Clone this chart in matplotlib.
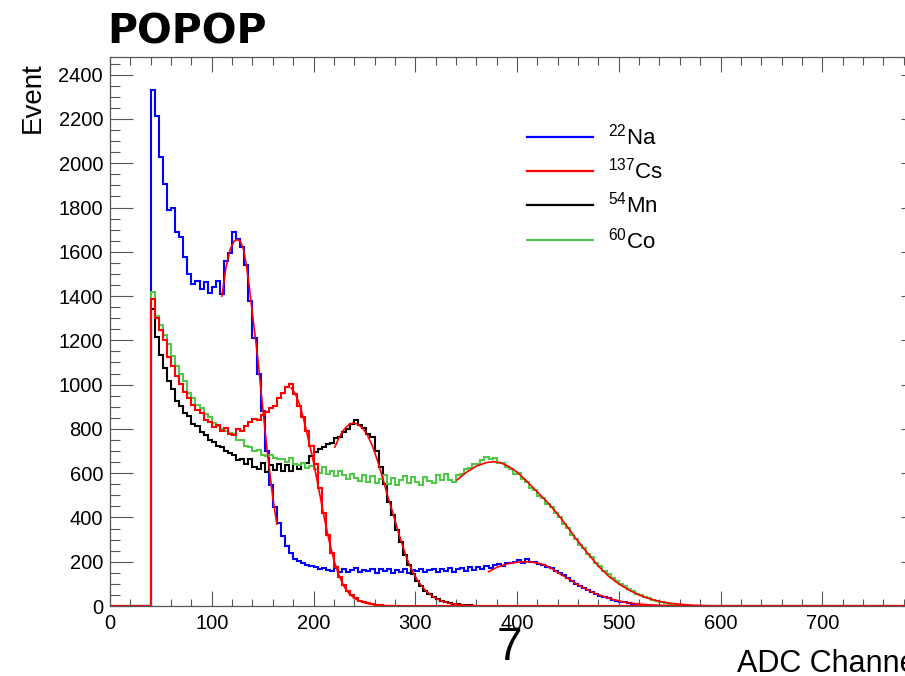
import numpy as np
import matplotlib
matplotlib.use("Agg")
import matplotlib.pyplot as plt
from matplotlib.lines import Line2D

plt.rcParams["font.family"] = ["Liberation Sans", "DejaVu Sans"]
plt.rcParams["mathtext.fontset"] = "custom"
plt.rcParams["mathtext.rm"] = "Liberation Sans"
plt.rcParams["mathtext.it"] = "Liberation Sans"

# ── Data: histogram counts, 4-channel bins starting at channel 40 ───────────
BIN_START = 40
BIN_WIDTH = 4
X_MAX = 800

na22 = [2330, 2215, 2030, 1905, 1790, 1800, 1690, 1665, 1575, 1500,
        1455, 1470, 1430, 1465, 1415, 1440, 1470, 1410, 1560, 1595,
        1690, 1660, 1620, 1540, 1380, 1210, 1050, 880, 700, 545,
        445, 375, 318, 272, 238, 214, 203, 194, 183, 180,
        174, 168, 172, 163, 160, 170, 155, 166, 152, 164,
        170, 153, 163, 156, 167, 151, 165, 157, 168, 150,
        162, 154, 166, 151, 163, 156, 168, 152, 161, 165,
        154, 166, 157, 170, 155, 167, 171, 160, 174, 163,
        176, 166, 180, 170, 185, 189, 180, 196, 193, 198,
        206, 196, 211, 200, 199, 190, 186, 176, 172, 159,
        150, 140, 126, 114, 101, 91, 80, 71, 62, 55,
        47, 40, 34, 29, 24, 20, 16, 13, 10, 8,
        6, 5, 3, 2, 2, 1, 1, 1]

cs137 = [1385, 1300, 1245, 1200, 1125, 1085, 1040, 1005, 965, 940,
         910, 885, 870, 838, 832, 808, 818, 792, 803, 778,
         772, 798, 790, 815, 832, 845, 838, 862, 878, 893,
         905, 938, 962, 988, 1005, 958, 905, 852, 790, 722,
         642, 532, 420, 322, 240, 178, 130, 94, 68, 48,
         34, 24, 17, 12, 8, 5, 3, 2, 1, 1]

mn54 = [1340, 1215, 1135, 1075, 1015, 978, 928, 905, 872, 858,
        822, 812, 788, 772, 750, 742, 722, 718, 698, 692,
        680, 660, 662, 640, 665, 630, 618, 645, 605, 638,
        615, 642, 612, 636, 610, 640, 618, 648, 648, 678,
        695, 708, 718, 732, 738, 758, 762, 788, 798, 822,
        838, 818, 802, 778, 762, 702, 628, 552, 472, 410,
        342, 288, 232, 186, 146, 115, 90, 70, 55, 42,
        32, 24, 18, 13, 10, 7, 5, 4, 3, 2,
        2, 1, 1, 2, 1, 1, 0, 1, 0, 1]

co60 = [1420, 1310, 1268, 1225, 1185, 1128, 1085, 1048, 1015, 962,
        940, 908, 895, 868, 855, 826, 812, 798, 792, 780,
        778, 748, 748, 722, 718, 702, 705, 682, 676, 684,
        668, 664, 662, 650, 668, 642, 638, 645, 622, 632,
        618, 600, 626, 598, 612, 585, 610, 590, 572, 598,
        580, 565, 590, 560, 585, 556, 575, 590, 552, 578,
        548, 570, 585, 555, 582, 560, 548, 584, 565, 555,
        590, 568, 598, 570, 560, 592, 598, 618, 622, 642,
        640, 658, 672, 662, 668, 648, 645, 628, 618, 598,
        600, 575, 558, 532, 522, 498, 486, 460, 445, 418,
        402, 372, 352, 322, 302, 275, 260, 236, 220, 194,
        180, 158, 144, 126, 115, 99, 89, 76, 67, 55,
        48, 39, 34, 26, 22, 17, 13, 10, 8, 6,
        5, 3, 2, 2, 1, 1]

# ── Fit curves (channel, counts) ──────────────────────────────────────────────
fit_na_low_x = [110, 114, 118, 122, 125, 128, 131, 134, 137, 140, 145, 150, 155, 160, 164]
fit_na_low_y = [1400, 1530, 1610, 1648, 1655, 1648, 1615, 1540, 1440, 1320, 1130, 900, 680, 490, 370]

fit_na_high_x = [372, 380, 390, 400, 408, 415, 422, 430, 440, 450, 460, 470, 480, 490, 500,
                 510, 520, 530, 540, 550, 560]
fit_na_high_y = [155, 174, 190, 198, 200, 198, 192, 180, 152, 124, 96, 71, 51, 35, 23,
                 14, 9, 5, 3, 1.5, 0.5]

fit_cs_x = [178, 182, 186, 190, 195, 200, 205, 210, 215, 220, 225, 230, 235, 240, 245,
            250, 255, 260, 270, 280, 300, 800]
fit_cs_y = [985, 960, 915, 850, 752, 650, 532, 412, 302, 208, 138, 88, 56, 36, 23,
            15, 9, 5, 2, 1, 0, 0]

fit_mn_x = [221, 225, 230, 235, 239, 243, 248, 253, 258, 263, 268, 273, 278, 283, 288,
            293, 298, 303, 310, 318, 326, 335, 345, 360]
fit_mn_y = [718, 760, 798, 820, 827, 822, 805, 772, 722, 655, 578, 495, 420, 340, 265,
            200, 150, 110, 70, 40, 22, 11, 5, 1]

fit_co_x = [341, 350, 360, 370, 377, 384, 392, 400, 410, 420, 430, 440, 450, 460, 470,
            480, 490, 500, 510, 520, 530, 540, 550, 560, 570, 580, 590, 600]
fit_co_y = [569, 603, 632, 648, 652, 647, 630, 605, 562, 515, 468, 415, 355, 292, 235,
            180, 135, 100, 72, 50, 33, 21, 13, 8, 4, 2, 1, 0]

series = [("$^{22}$Na", na22, "#0000ff"),
          ("$^{137}$Cs", cs137, "#ff0000"),
          ("$^{54}$Mn", mn54, "#000000"),
          ("$^{60}$Co", co60, "#52c84a")]
draw_order = [0, 2, 3, 1]

# ── Figure ────────────────────────────────────────────────────────────────────
W, H = 905, 676
fig = plt.figure(figsize=(W / 100, H / 100), dpi=100)
ax = fig.add_axes([110 / W, 70 / H, 814 / W, 549 / H])

edges = np.arange(0, X_MAX + BIN_WIDTH, BIN_WIDTH)
n_bins = len(edges) - 1
first = BIN_START // BIN_WIDTH

for i in draw_order:
    label, counts, color = series[i]
    full = np.zeros(n_bins)
    full[first:first + len(counts)] = counts
    ax.stairs(full, edges, color=color, linewidth=1.5, baseline=None)

fit_col = "#ff0000"
for fx, fy in [(fit_na_low_x, fit_na_low_y), (fit_na_high_x, fit_na_high_y),
               (fit_cs_x, fit_cs_y), (fit_mn_x, fit_mn_y), (fit_co_x, fit_co_y)]:
    ax.plot(fx, fy, color=fit_col, linewidth=1.2)

ax.set_xlim(0, X_MAX)
ax.set_ylim(0, 2480)
xt = np.arange(0, X_MAX + 1, 100)
ax.set_xticks(xt)
ax.set_xticklabels([str(v) if v < X_MAX else "" for v in xt])
ax.set_xticks(np.arange(0, X_MAX + 1, 20), minor=True)
ax.set_yticks(np.arange(0, 2401, 200))
ax.set_yticks(np.arange(0, 2451, 50), minor=True)

frame_col = "#555555"
for sp in ax.spines.values():
    sp.set_color(frame_col)
    sp.set_linewidth(0.9)
ax.tick_params(which="both", direction="in", top=True, right=True,
               color=frame_col, width=0.8, labelsize=14.5)
ax.tick_params(axis="x", which="major", length=10.8, pad=6)
ax.tick_params(axis="x", which="minor", length=5.4)
ax.tick_params(axis="y", which="major", length=16.5, pad=5)
ax.tick_params(axis="y", which="minor", length=7.5)

# ── Legend (no frame) ────────────────────────────────────────────────────────
leg_y = [137, 171, 205, 240]
for (label, counts, color), yp in zip(series, leg_y):
    fig.add_artist(Line2D([527 / W, 593 / W], [1 - yp / H, 1 - yp / H],
                          transform=fig.transFigure, color=color, linewidth=1.6))
    fig.text(608 / W, 1 - (yp + 8) / H, label, fontsize=16, va="baseline", ha="left")

# ── Titles / annotations ─────────────────────────────────────────────────────
fig.text(107 / W, 1 - 43 / H, "POPOP", fontsize=29.5, fontweight="bold",
         family="DejaVu Sans", va="baseline", ha="left")
fig.text(33 / W, 1 - 62 / H, "Event", fontsize=20, rotation=90,
         va="top", ha="center")
fig.text(737 / W, 4 / H, "ADC Channel", fontsize=22, va="baseline", ha="left")
fig.text(509 / W, 1 - 660 / H, "7", fontsize=33, va="baseline", ha="center")

fig.savefig("out.png", dpi=100)
